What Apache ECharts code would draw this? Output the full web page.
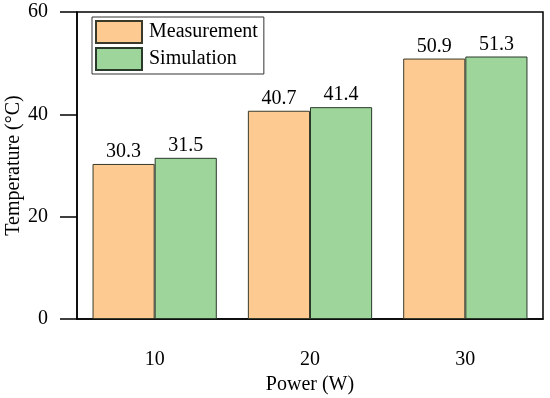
<!DOCTYPE html>
<html><head><meta charset="utf-8">
<script src="https://cdn.jsdelivr.net/npm/echarts@6/dist/echarts.min.js"></script>
<style>html,body{margin:0;padding:0;background:#fff}#c{width:550px;height:398px}</style>
</head><body><div id="c"></div>
<script>
const categories = ['10', '20', '30'];
const measurement = [30.3, 40.7, 50.9];
const simulation = [31.5, 41.4, 51.3];
const yTicks = [0, 20, 40, 60];
const seriesNames = ['Measurement', 'Simulation'];

const font = 'Liberation Serif, Times New Roman, serif';
const chart = echarts.init(document.getElementById('c'), null, {renderer: 'canvas'});
const barLabel = {show: true, position: 'top', distance: 2, color: '#000', fontFamily: font, fontSize: 20};
chart.setOption({
  animation: false,
  textStyle: {fontFamily: font},
  grid: {left: 77, right: 7, top: 12, bottom: 79, show: true, borderColor: '#000', borderWidth: 1.5,
         outerBoundsMode: 'none', containLabel: false},
  legend: {
    left: 92, top: 17, orient: 'vertical', itemWidth: 46, itemHeight: 22, itemGap: 3,
    padding: [3, 6, 3, 3], borderColor: '#333', borderWidth: 1,
    textStyle: {fontFamily: font, fontSize: 20, color: '#000', padding: [0, 0, 0, 2]},
    data: seriesNames.map(n => ({name: n, icon: 'rect'}))
  },
  xAxis: {
    type: 'category', data: categories,
    name: 'Power (W)', nameLocation: 'middle', nameGap: 56, nameMoveOverlap: false,
    nameTextStyle: {fontFamily: font, fontSize: 20, color: '#000'},
    axisLine: {lineStyle: {color: '#000', width: 1.5}},
    axisTick: {alignWithLabel: true, length: 17, lineStyle: {color: '#000', width: 1.5}},
    axisLabel: {margin: 31, fontFamily: font, fontSize: 20, color: '#000'}
  },
  yAxis: {
    type: 'value', min: 0, max: 60, interval: 20,
    name: 'Temperature (°C)', nameLocation: 'middle', nameGap: 53, nameMoveOverlap: false,
    nameTextStyle: {fontFamily: font, fontSize: 20, color: '#000'},
    axisLine: {show: true, lineStyle: {color: '#000', width: 1.5}},
    axisTick: {show: true, length: 17, lineStyle: {color: '#000', width: 1.5}},
    axisLabel: {margin: 29, fontFamily: font, fontSize: 20, color: '#000',
      formatter: v => yTicks.includes(v) ? String(v) : ''},
    splitLine: {show: false}
  },
  series: [
    {name: seriesNames[0], type: 'bar', data: measurement, barWidth: '40%', barGap: '0%',
     itemStyle: {color: '#FDCB92', borderColor: '#3a3a2a', borderWidth: 1}, label: barLabel},
    {name: seriesNames[1], type: 'bar', data: simulation, barWidth: '40%', barGap: '0%',
     itemStyle: {color: '#9DD59A', borderColor: '#2a3a2a', borderWidth: 1}, label: barLabel}
  ]
});
</script></body></html>
